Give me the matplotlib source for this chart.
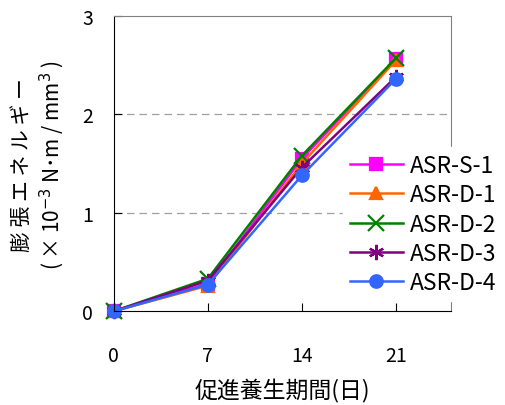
import matplotlib.pyplot as plt

plt.rcParams['font.family'] = ['Noto Sans CJK JP', 'DejaVu Sans']

days = [0, 7, 14, 21]
series_names = ["ASR-S-1", "ASR-D-1", "ASR-D-2", "ASR-D-3", "ASR-D-4"]
s1 = [0.0, 0.28, 1.55, 2.56]
d1 = [0.0, 0.26, 1.50, 2.55]
d2 = [0.0, 0.33, 1.58, 2.57]
d3 = [0.0, 0.31, 1.46, 2.38]
d4 = [0.0, 0.27, 1.38, 2.36]

colors = ["#FF00FF", "#FF6600", "#008000", "#800080", "#3366FF"]
markers = ["s", "^", "x", (6, 2, 0), "o"]
sizes = [9, 9, 11, 11, 9]

fig = plt.figure(figsize=(5.06, 4.06), dpi=100)
ax = fig.add_axes([0.225, 0.231, 0.666, 0.727])

for vals, name, c, m, ms in zip([s1, d1, d2, d3, d4], series_names, colors, markers, sizes):
    ax.plot(days, vals, color=c, marker=m, markersize=ms, markeredgewidth=1.6,
            linewidth=1.8, label=name, clip_on=False)

ax.set_xlim(0, 25.1)
ax.set_ylim(0, 3)
ax.set_xticks(days)
ax.set_yticks([0, 1, 2, 3])
ax.tick_params(direction="in", labelsize=14, length=6)
ax.tick_params(axis="x", pad=24)
ax.tick_params(axis="y", pad=15)
for y in [1, 2]:
    ax.axhline(y, color="#A0A0A0", linestyle=(0, (6, 4)), linewidth=0.9, zorder=0)

for s in ["top", "right"]:
    ax.spines[s].set_color("#808080")

ax.set_xlabel("促進養生期間(日)", fontsize=16.5, labelpad=9)

# two-line y label
fig.text(21.5 / 506, 1 - 165 / 406, "膨 張 エ ネ ル ギ ー", rotation=90,
         fontsize=15, ha="center", va="center")
fig.text(52 / 506, 1 - 165 / 406, "( × 10$^{-3}$ N･m / mm$^{3}$ )", rotation=90,
         fontsize=15, ha="center", va="center")

leg = ax.legend(loc="upper left", bbox_to_anchor=(0.68, 0.555), frameon=True,
                fontsize=16.5, handlelength=2.3, labelspacing=0.27, borderpad=0.3,
                handletextpad=0.3, borderaxespad=0)
leg.get_frame().set_edgecolor("white")
leg.get_frame().set_facecolor("white")
leg.get_frame().set_alpha(1)
leg.get_frame().set_boxstyle("square", pad=0)

fig.savefig("out.png", dpi=100)
